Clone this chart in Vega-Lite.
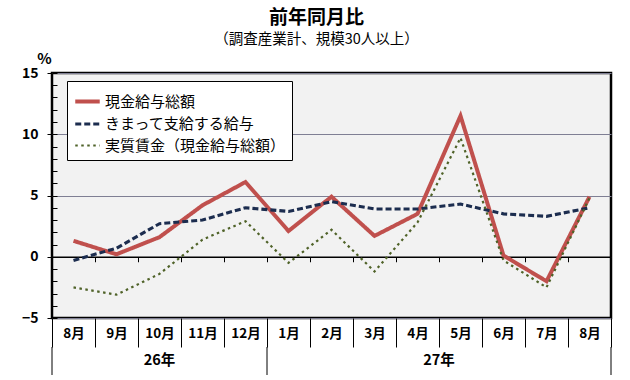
{
  "$schema": "https://vega.github.io/schema/vega-lite/v6.json",
  "background": "white",
  "padding": {"left": 20, "top": 9, "right": 17, "bottom": 3},
  "title": {
    "text": "前年同月比",
    "subtitle": "（調査産業計、規模30人以上）",
    "anchor": "middle",
    "frame": "bounds",
    "font": "Noto Sans CJK JP",
    "fontSize": 19,
    "fontWeight": "bold",
    "color": "black",
    "subtitleFont": "Noto Sans CJK JP",
    "subtitleFontSize": 14.5,
    "subtitleColor": "black",
    "subtitlePadding": 5,
    "offset": 3
  },
  "config": {"view": {"stroke": null}, "font": "Noto Sans CJK JP"},
  "bounds": "flush",
  "spacing": 29,
  "vconcat": [
    {
      "width": 559,
      "height": 245,
      "view": {"fill": "#f2f2f2", "stroke": "black", "strokeWidth": 2.5},
      "data": {
        "values": [
          {"month": "H26-8月", "series": "現金給与総額", "value": 1.3},
          {"month": "H26-9月", "series": "現金給与総額", "value": 0.2},
          {"month": "H26-10月", "series": "現金給与総額", "value": 1.6},
          {"month": "H26-11月", "series": "現金給与総額", "value": 4.2},
          {"month": "H26-12月", "series": "現金給与総額", "value": 6.1},
          {"month": "H27-1月", "series": "現金給与総額", "value": 2.1},
          {"month": "H27-2月", "series": "現金給与総額", "value": 4.9},
          {"month": "H27-3月", "series": "現金給与総額", "value": 1.7},
          {"month": "H27-4月", "series": "現金給与総額", "value": 3.5},
          {"month": "H27-5月", "series": "現金給与総額", "value": 11.5},
          {"month": "H27-6月", "series": "現金給与総額", "value": 0.1},
          {"month": "H27-7月", "series": "現金給与総額", "value": -2.0},
          {"month": "H27-8月", "series": "現金給与総額", "value": 4.9},
          {"month": "H26-8月", "series": "きまって支給する給与", "value": -0.3},
          {"month": "H26-9月", "series": "きまって支給する給与", "value": 0.7},
          {"month": "H26-10月", "series": "きまって支給する給与", "value": 2.7},
          {"month": "H26-11月", "series": "きまって支給する給与", "value": 3.0},
          {"month": "H26-12月", "series": "きまって支給する給与", "value": 4.0},
          {"month": "H27-1月", "series": "きまって支給する給与", "value": 3.7},
          {"month": "H27-2月", "series": "きまって支給する給与", "value": 4.5},
          {"month": "H27-3月", "series": "きまって支給する給与", "value": 3.9},
          {"month": "H27-4月", "series": "きまって支給する給与", "value": 3.9},
          {"month": "H27-5月", "series": "きまって支給する給与", "value": 4.3},
          {"month": "H27-6月", "series": "きまって支給する給与", "value": 3.5},
          {"month": "H27-7月", "series": "きまって支給する給与", "value": 3.3},
          {"month": "H27-8月", "series": "きまって支給する給与", "value": 4.0},
          {"month": "H26-8月", "series": "実質賃金（現金給与総額）", "value": -2.5},
          {"month": "H26-9月", "series": "実質賃金（現金給与総額）", "value": -3.1},
          {"month": "H26-10月", "series": "実質賃金（現金給与総額）", "value": -1.4},
          {"month": "H26-11月", "series": "実質賃金（現金給与総額）", "value": 1.4},
          {"month": "H26-12月", "series": "実質賃金（現金給与総額）", "value": 2.9},
          {"month": "H27-1月", "series": "実質賃金（現金給与総額）", "value": -0.5},
          {"month": "H27-2月", "series": "実質賃金（現金給与総額）", "value": 2.2},
          {"month": "H27-3月", "series": "実質賃金（現金給与総額）", "value": -1.2},
          {"month": "H27-4月", "series": "実質賃金（現金給与総額）", "value": 2.8},
          {"month": "H27-5月", "series": "実質賃金（現金給与総額）", "value": 9.7},
          {"month": "H27-6月", "series": "実質賃金（現金給与総額）", "value": -0.3},
          {"month": "H27-7月", "series": "実質賃金（現金給与総額）", "value": -2.5},
          {"month": "H27-8月", "series": "実質賃金（現金給与総額）", "value": 4.8}
        ]
      },
      "layer": [
        {
          "mark": {"type": "line", "opacity": 0},
          "encoding": {
            "x": {
              "field": "month", "type": "ordinal", "sort": null,
              "scale": {"type": "band", "paddingInner": 0, "paddingOuter": 0,
                "domain": ["H26-8月","H26-9月","H26-10月","H26-11月","H26-12月","H27-1月","H27-2月","H27-3月","H27-4月","H27-5月","H27-6月","H27-7月","H27-8月"]},
              "axis": {"orient": "top", "offset": -183.75, "labels": false, "title": null,
                "domain": true, "domainColor": "black", "domainWidth": 1.5,
                "ticks": true, "tickBand": "extent", "tickSize": -5, "tickColor": "black", "tickWidth": 1, "grid": false}
            },
            "y": {
              "field": "value", "type": "quantitative",
              "scale": {"domain": [-5, 15], "nice": false, "zero": false},
              "axis": {"orient": "left", "values": [-5,-4,-3,-2,-1,0,1,2,3,4,5,6,7,8,9,10,11,12,13,14,15],
                "labels": false, "title": null, "domain": false, "grid": false,
                "ticks": true, "tickSize": -5, "tickColor": "black", "tickWidth": 1}
            },
            "detail": {"field": "series"}
          }
        },
        {
          "mark": {"type": "line", "strokeCap": "butt", "strokeJoin": "miter"},
          "encoding": {
            "x": {
              "field": "month", "type": "ordinal", "sort": null,
              "scale": {"type": "band", "paddingInner": 0, "paddingOuter": 0,
                "domain": ["H26-8月","H26-9月","H26-10月","H26-11月","H26-12月","H27-1月","H27-2月","H27-3月","H27-4月","H27-5月","H27-6月","H27-7月","H27-8月"]},
              "axis": {"orient": "bottom", "title": null, "domain": false, "grid": false,
                "tickBand": "extent", "tickSize": 29, "tickColor": "black", "tickWidth": 1,
                "labelPadding": -21, "labelFontSize": 13.5, "labelFontWeight": "bold", "labelColor": "black",
                "labelAngle": 0, "labelOverlap": false, "labelBound": false,
                "labelExpr": "split(datum.label, '-')[1]"}
            },
            "y": {
              "field": "value", "type": "quantitative",
              "scale": {"domain": [-5, 15], "nice": false, "zero": false},
              "axis": {"orient": "left", "values": [-5, 0, 5, 10, 15], "title": "%", "titleAngle": 0,
                "titleX": -8, "titleY": -15, "titleAlign": "center", "titleBaseline": "middle",
                "titleFontSize": 15, "titleFontWeight": "bold", "titleColor": "black",
                "labelFontSize": 14, "labelFontWeight": "bold", "labelColor": "black",
                "labelPadding": 9, "tickSize": 5, "tickColor": "black", "tickWidth": 1,
                "domain": false, "grid": true, "gridColor": "#7f7f94", "gridWidth": 1}
            },
            "color": {
              "field": "series", "type": "nominal",
              "scale": {"domain": ["現金給与総額", "きまって支給する給与", "実質賃金（現金給与総額）"],
                "range": ["#c0504d", "#1c2d4f", "#4f6228"]},
              "legend": {"title": null, "orient": "none", "legendX": 15, "legendY": 8,
                "fillColor": "white", "strokeColor": "black", "padding": 6,
                "symbolType": "stroke", "symbolSize": 600, "labelFontSize": 15,
                "labelColor": "black", "rowPadding": 0, "labelOffset": 3, "labelLimit": 300}
            },
            "strokeDash": {
              "field": "series", "type": "nominal",
              "scale": {"domain": ["現金給与総額", "きまって支給する給与", "実質賃金（現金給与総額）"],
                "range": [[1, 0], [6, 3], [2.5, 3.5]]},
              "legend": {"title": null, "orient": "none", "legendX": 15, "legendY": 8,
                "fillColor": "white", "strokeColor": "black", "padding": 6,
                "symbolType": "stroke", "symbolSize": 600, "labelFontSize": 15,
                "labelColor": "black", "rowPadding": 0, "labelOffset": 3, "labelLimit": 300}
            },
            "strokeWidth": {
              "field": "series", "type": "nominal",
              "scale": {"domain": ["現金給与総額", "きまって支給する給与", "実質賃金（現金給与総額）"],
                "range": [4, 2.2, 3]},
              "legend": {"title": null, "orient": "none", "legendX": 15, "legendY": 8,
                "fillColor": "white", "strokeColor": "black", "padding": 6,
                "symbolType": "stroke", "symbolSize": 600, "labelFontSize": 15,
                "labelColor": "black", "rowPadding": 0, "labelOffset": 3, "labelLimit": 300}
            }
          }
        }
      ],
      "resolve": {"axis": {"x": "independent", "y": "independent"}}
    },
    {
      "width": 559,
      "height": 28,
      "layer": [
        {
          "data": {"values": [{"month": "H26-8月"}, {"month": "H27-1月"}]},
          "mark": {"type": "rule", "color": "black", "strokeWidth": 1},
          "encoding": {
            "x": {"field": "month", "type": "ordinal", "sort": null, "bandPosition": 0,
              "scale": {"type": "band", "paddingInner": 0, "paddingOuter": 0,
                "domain": ["H26-8月","H26-9月","H26-10月","H26-11月","H26-12月","H27-1月","H27-2月","H27-3月","H27-4月","H27-5月","H27-6月","H27-7月","H27-8月"]},
              "axis": null}
          }
        },
        {
          "data": {"values": [{"month": "H27-8月"}]},
          "mark": {"type": "rule", "color": "black", "strokeWidth": 1},
          "encoding": {
            "x": {"field": "month", "type": "ordinal", "sort": null, "bandPosition": 1, "axis": null}
          }
        },
        {
          "data": {"values": [{"month": "H26-10月", "year": "26年"}]},
          "mark": {"type": "text", "fontSize": 14.5, "fontWeight": "bold", "color": "black", "baseline": "middle", "align": "center"},
          "encoding": {
            "x": {"field": "month", "type": "ordinal", "sort": null, "bandPosition": 0.5, "axis": null},
            "text": {"field": "year"}
          }
        },
        {
          "data": {"values": [{"month": "H27-4月", "year": "27年"}]},
          "mark": {"type": "text", "fontSize": 14.5, "fontWeight": "bold", "color": "black", "baseline": "middle", "align": "center"},
          "encoding": {
            "x": {"field": "month", "type": "ordinal", "sort": null, "bandPosition": 1, "axis": null},
            "text": {"field": "year"}
          }
        }
      ]
    }
  ]
}
